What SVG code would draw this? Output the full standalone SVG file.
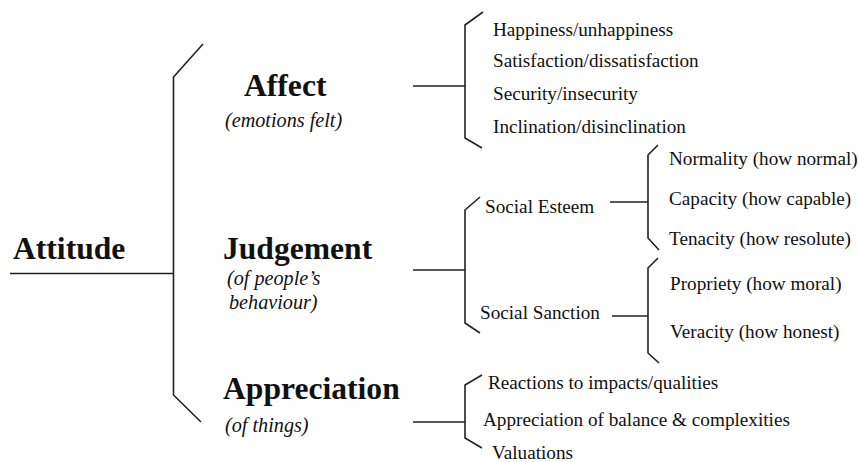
<svg xmlns="http://www.w3.org/2000/svg" width="859" height="462" viewBox="0 0 859 462">
<style>
.ln{stroke:#222;stroke-width:1.6;fill:none}
.big{font-family:"Liberation Serif","Times New Roman",serif;font-weight:bold;font-size:31.6px;fill:#111}
.it{font-family:"Liberation Serif","Times New Roman",serif;font-style:italic;font-size:20.2px;fill:#111}
.tx{font-family:"Liberation Serif","Times New Roman",serif;font-size:19.2px;fill:#111}
</style>
<rect width="859" height="462" fill="#fff"/>
<g id="connectors">
<path class="ln" d="M10 273.5H173.5"/>
<path class="ln" d="M203 44L173.5 77V395L201 422"/>
<path class="ln" d="M413 86H465"/>
<path class="ln" d="M483 12L465 25V138L482 148"/>
<path class="ln" d="M413 270H465"/>
<path class="ln" d="M480 197L465 210V323L480 333"/>
<path class="ln" d="M610 202H648"/>
<path class="ln" d="M658 145L648 155V238L659 250"/>
<path class="ln" d="M612 316H648"/>
<path class="ln" d="M658 258L648 268V353L659 363"/>
<path class="ln" d="M413 422H465"/>
<path class="ln" d="M482 375L465 385V438L482 448"/>
</g>
<g id="attitude"><text class="big" x="13" y="259">Attitude</text></g>
<g id="affect"><text class="big" x="244" y="96">Affect</text><text class="it" x="225" y="127">(emotions felt)</text></g>
<g id="judgement"><text class="big" x="223" y="259">Judgement</text><text class="it" x="227" y="285">(of people’s</text><text class="it" x="229" y="309">behaviour)</text></g>
<g id="appreciation"><text class="big" x="223" y="399">Appreciation</text><text class="it" x="225" y="432">(of things)</text></g>
<g id="affect-items">
<text class="tx" x="493" y="36">Happiness/unhappiness</text>
<text class="tx" x="493" y="67">Satisfaction/dissatisfaction</text>
<text class="tx" x="493" y="100">Security/insecurity</text>
<text class="tx" x="493" y="133">Inclination/disinclination</text>
</g>
<g id="social-esteem"><text class="tx" x="485" y="213">Social Esteem</text></g>
<g id="social-sanction"><text class="tx" x="480" y="319">Social Sanction</text></g>
<g id="esteem-items">
<text class="tx" x="669" y="165">Normality (how normal)</text>
<text class="tx" x="669" y="205">Capacity (how capable)</text>
<text class="tx" x="669" y="245">Tenacity (how resolute)</text>
</g>
<g id="sanction-items">
<text class="tx" x="670" y="290">Propriety (how moral)</text>
<text class="tx" x="670" y="338">Veracity (how honest)</text>
</g>
<g id="appreciation-items">
<text class="tx" x="488" y="389">Reactions to impacts/qualities</text>
<text class="tx" x="483" y="426">Appreciation of balance &amp; complexities</text>
<text class="tx" x="492" y="459">Valuations</text>
</g>
</svg>
